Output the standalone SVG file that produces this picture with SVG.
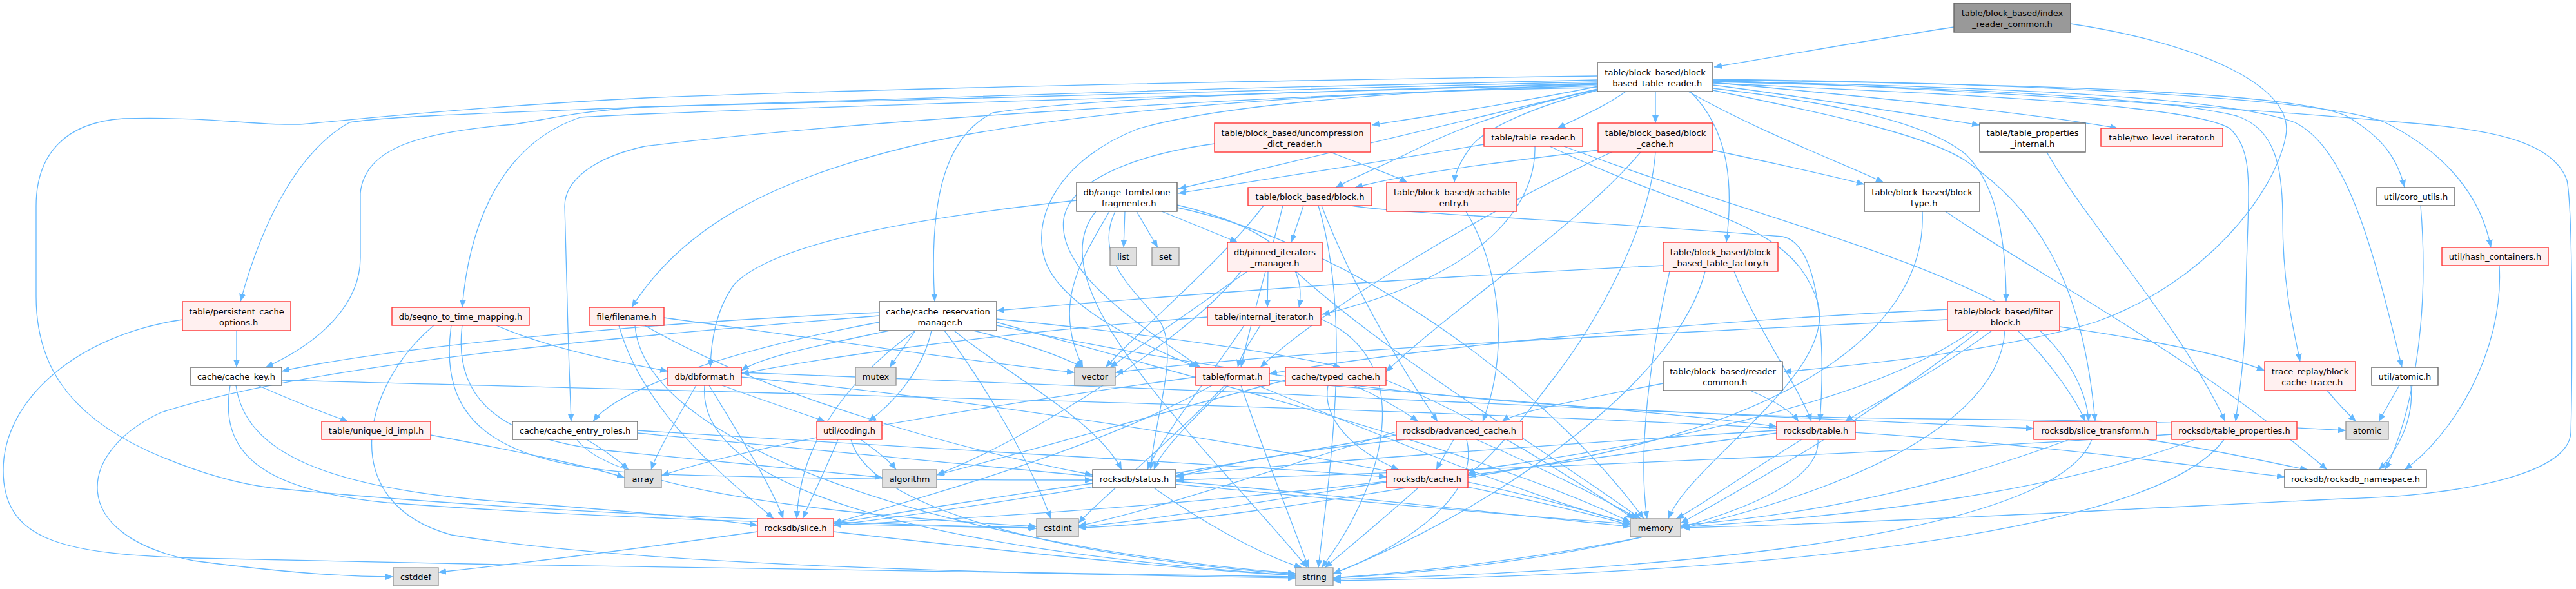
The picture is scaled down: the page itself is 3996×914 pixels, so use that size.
<svg xmlns="http://www.w3.org/2000/svg" width="3996" height="914" viewBox="0 0 3996 914">
<style>
.e{fill:none;stroke:#63b8ff;stroke-width:1.3;marker-end:url(#a)}
.w{fill:#ffffff;stroke:#666666;stroke-width:1.4}
.r{fill:#fff0f0;stroke:#ff3333;stroke-width:1.4}
.g{fill:#e0e0e0;stroke:#999999;stroke-width:1.4}
.root{fill:#999999;stroke:#666666;stroke-width:1.4}
text{font-family:"DejaVu Sans","Liberation Sans",sans-serif;font-size:13px;text-anchor:middle;fill:#000000}
</style>
<defs>
<marker id="a" markerWidth="13" markerHeight="10" refX="12" refY="5" orient="auto" markerUnits="userSpaceOnUse"><path d="M0,0 L12,5 L0,10 z" fill="#63b8ff"/></marker>
</defs>
<rect x="0" y="0" width="3996" height="914" fill="#ffffff"/>
<g id="edges">
<path class="e" d="M3031,42 C2900,62 2780,84 2659,104"/>
<path class="e" d="M3212,37 C3400,65 3560,130 3546,210 C3530,300 3420,440 3250,500 C3100,545 2900,565 2767,577"/>
<path class="e" d="M2478,118 C1900,125 1300,140 1000,152 C800,162 600,180 478,192 C420,198 330,180 191,184 C100,190 56,240 56,320 L56,460 C56,560 100,640 230,700 C320,740 380,752 420,757 C800,795 1300,812 1606,819"/>
<path class="e" d="M2657,125 C3000,135 3500,170 3729,190 C3850,200 3960,215 3982,280 C3992,330 3990,600 3988,671 C3985,740 3800,770 3634,774 C3300,790 2900,812 2609,819"/>
<path class="e" d="M2478,124 C2000,134 1400,150 1000,166 C800,174 600,180 542,190 C470,230 410,330 373,468"/>
<path class="e" d="M2478,127 C1900,140 1300,158 1000,166 C900,172 850,185 797,193 C650,205 565,230 559,300 L559,400 C559,470 500,530 412,570"/>
<path class="e" d="M2478,130 C1800,150 1100,170 900,182 C760,230 725,380 717,477"/>
<path class="e" d="M2478,133 C1900,150 1300,190 1000,227 C920,245 876,280 876,320 L880,470 C882,560 885,620 886,654"/>
<path class="e" d="M2478,136 C2000,142 1600,180 1400,230 C1200,280 1060,350 980,477"/>
<path class="e" d="M2478,129 C2100,140 1700,150 1540,175 C1470,210 1440,300 1450,468"/>
<path class="e" d="M2478,138 C2300,180 2100,230 1828,293"/>
<path class="e" d="M2478,131 C2200,140 1900,160 1765,200 C1650,245 1600,330 1620,400 C1640,470 1760,530 1857,570"/>
<path class="e" d="M2479,134 C2350,160 2250,175 2128,194"/>
<path class="e" d="M2522,142 C2490,165 2450,182 2416,199"/>
<path class="e" d="M2568,142 L2568,191"/>
<path class="e" d="M2479,139 C2380,160 2280,190 2200,230 C2140,260 2100,275 2072,291"/>
<path class="e" d="M2479,140 C2380,165 2300,200 2280,230 C2262,255 2257,270 2256,283"/>
<path class="e" d="M2619,142 C2720,200 2850,250 2922,283"/>
<path class="e" d="M2622,142 C2680,200 2690,280 2678,376"/>
<path class="e" d="M2657,132 C2800,150 2950,175 3071,194"/>
<path class="e" d="M2657,128 C2900,150 3150,175 3285,199"/>
<path class="e" d="M2657,124 C3100,130 3550,140 3640,180 C3700,215 3720,250 3730,291"/>
<path class="e" d="M2657,123 C3100,128 3600,150 3700,190 C3800,240 3850,310 3864,384"/>
<path class="e" d="M2657,137 C2850,160 2990,190 3050,240 C3100,290 3112,380 3112,468"/>
<path class="e" d="M2657,129 C3000,145 3400,160 3460,200 C3500,240 3486,300 3484,460 C3483,560 3472,620 3468,654"/>
<path class="e" d="M2657,140 C2850,180 2990,210 3050,250 C3150,320 3230,420 3250,654"/>
<path class="e" d="M2657,127 C3000,135 3350,150 3470,180 C3530,200 3541,260 3541,340 C3541,450 3560,520 3568,561"/>
<path class="e" d="M2657,126 C3100,135 3450,150 3560,190 C3640,230 3680,380 3726,570"/>
<path class="e" d="M2064,236 C2110,255 2160,270 2183,283"/>
<path class="e" d="M1884,223 C1760,240 1660,280 1650,340 C1640,420 1760,500 1862,570"/>
<path class="e" d="M2302,224 C2150,250 2000,272 1828,300"/>
<path class="e" d="M2381,227 C2383,300 2330,420 2051,488"/>
<path class="e" d="M2426,227 C2700,330 3000,400 3150,500 C3220,560 3238,620 3240,654"/>
<path class="e" d="M2404,227 C2640,340 2780,340 2820,470 C2850,580 2620,720 2588,805"/>
<path class="e" d="M2479,233 C2300,255 2180,270 2102,291"/>
<path class="e" d="M2657,233 C2760,255 2830,270 2892,286"/>
<path class="e" d="M2545,236 C2450,350 2250,480 2150,577"/>
<path class="e" d="M2568,236 C2560,350 2480,500 2400,600 C2340,680 2300,720 2277,737"/>
<path class="e" d="M2500,236 C2300,330 2050,480 1955,570"/>
<path class="e" d="M3175,236 C3240,350 3380,500 3452,654"/>
<path class="e" d="M1745,328 L1743,384"/>
<path class="e" d="M1763,328 L1796,384"/>
<path class="e" d="M1802,328 L1920,376"/>
<path class="e" d="M1826,318 C1960,350 2030,400 2015,477"/>
<path class="e" d="M1670,311 C1400,340 1200,380 1140,440 C1110,480 1103,530 1102,570"/>
<path class="e" d="M1730,328 C1695,400 1760,450 1800,500 C1830,550 1790,650 1785,729"/>
<path class="e" d="M1721,328 C1680,400 1630,470 1680,570"/>
<path class="e" d="M1826,322 C2100,380 2400,600 2550,805"/>
<path class="e" d="M1700,328 C1600,450 1880,700 2028,881"/>
<path class="e" d="M1967,421 L1966,477"/>
<path class="e" d="M1925,421 C1850,520 1600,680 1453,737"/>
<path class="e" d="M2010,421 C2150,550 2400,700 2545,805"/>
<path class="e" d="M1935,421 C1850,480 1780,530 1722,570"/>
<path class="e" d="M2022,319 L2003,376"/>
<path class="e" d="M2050,319 C2100,450 2180,580 2230,654"/>
<path class="e" d="M2096,319 C2150,330 2500,345 2765,367 C2830,380 2830,560 2823,654"/>
<path class="e" d="M1990,319 C1970,400 1940,500 1925,570"/>
<path class="e" d="M2045,319 C2100,500 2060,750 2045,881"/>
<path class="e" d="M1960,319 C1900,400 1780,500 1715,570"/>
<path class="e" d="M2274,328 C2330,420 2340,550 2300,654"/>
<path class="e" d="M3018,328 C3150,420 3400,550 3610,729"/>
<path class="e" d="M2982,328 C2990,500 2800,650 2400,720 C2000,790 1800,815 1673,819"/>
<path class="e" d="M3755,319 C3770,500 3740,650 3700,729"/>
<path class="e" d="M3877,412 C3885,550 3800,680 3730,729"/>
<path class="e" d="M2580,412 C2200,430 1800,460 1546,482"/>
<path class="e" d="M2590,421 C2560,550 2540,700 2555,805"/>
<path class="e" d="M2645,421 C2600,600 2300,800 2068,890"/>
<path class="e" d="M2690,421 C2720,500 2790,600 2810,654"/>
<path class="e" d="M367,513 L367,570"/>
<path class="e" d="M283,496 C120,520 5,620 5,730 C5,840 100,860 300,866 C900,880 1600,890 2010,895"/>
<path class="e" d="M770,505 C850,540 950,560 1036,576"/>
<path class="e" d="M717,505 C705,600 750,680 950,700 C1150,720 1300,735 1369,741"/>
<path class="e" d="M700,505 C680,650 760,720 1000,735 C1300,745 1550,745 1695,745"/>
<path class="e" d="M673,505 C560,600 520,780 700,830 C1000,880 1600,890 2010,897"/>
<path class="e" d="M1030,493 C1300,530 1500,560 1667,578"/>
<path class="e" d="M960,505 C1000,650 1150,760 1200,805"/>
<path class="e" d="M1000,505 C1200,620 1500,700 1695,737"/>
<path class="e" d="M985,505 C1000,700 1500,850 2010,890"/>
<path class="e" d="M1420,513 L1380,570"/>
<path class="e" d="M1510,513 C1580,530 1640,550 1680,570"/>
<path class="e" d="M1445,513 C1430,580 1380,630 1347,654"/>
<path class="e" d="M1420,513 C1300,600 1240,700 1236,805"/>
<path class="e" d="M1480,513 C1560,580 1700,650 1740,729"/>
<path class="e" d="M1465,513 C1530,600 1600,720 1630,805"/>
<path class="e" d="M1546,500 C1900,600 2300,700 2529,810"/>
<path class="e" d="M1364,485 C1000,500 600,540 437,576"/>
<path class="e" d="M1364,500 C1150,540 960,600 920,654"/>
<path class="e" d="M1546,495 C1800,520 2000,550 2080,570"/>
<path class="e" d="M1380,513 C1250,540 1180,555 1150,575"/>
<path class="e" d="M1364,490 C1000,520 500,560 250,640 C120,700 100,830 300,870 C450,890 550,895 610,895"/>
<path class="e" d="M1546,505 C2000,600 2400,645 3000,650 C3300,652 3500,660 3639,668"/>
<path class="e" d="M1873,492 C1500,520 1250,560 1150,580"/>
<path class="e" d="M1955,505 C1940,530 1925,550 1920,570"/>
<path class="e" d="M1930,505 C1880,580 1800,680 1780,729"/>
<path class="e" d="M2049,495 C2200,560 2150,750 2050,881"/>
<path class="e" d="M3021,496 C2500,520 2000,545 1730,578"/>
<path class="e" d="M3195,507 C3350,530 3450,550 3513,575"/>
<path class="e" d="M3130,513 C3180,560 3220,620 3235,654"/>
<path class="e" d="M3070,513 C2900,650 2700,760 2607,812"/>
<path class="e" d="M3110,513 C3100,700 2700,850 2068,897"/>
<path class="e" d="M3090,513 C3000,580 2900,630 2862,654"/>
<path class="e" d="M3060,513 C2800,700 2000,780 1293,815"/>
<path class="e" d="M3021,480 C2600,500 2200,540 1969,580"/>
<path class="e" d="M400,598 C450,620 500,640 540,654"/>
<path class="e" d="M357,598 C340,700 400,760 600,780 C1000,810 1400,815 1608,820"/>
<path class="e" d="M366,598 C380,700 500,760 800,780 C1000,795 1100,805 1175,815"/>
<path class="e" d="M437,590 C1200,610 2500,640 3000,680 C3300,705 3450,730 3544,740"/>
<path class="e" d="M1080,598 C1050,650 1020,700 1010,729"/>
<path class="e" d="M1120,598 C1180,620 1240,640 1280,654"/>
<path class="e" d="M1100,598 C1150,680 1200,760 1215,805"/>
<path class="e" d="M1093,598 C1080,750 1400,850 2010,893"/>
<path class="e" d="M1150,585 C1700,640 2300,750 2529,815"/>
<path class="e" d="M1150,578 C1800,600 2600,640 3155,665"/>
<path class="e" d="M1855,585 C1600,620 1200,680 1026,738"/>
<path class="e" d="M1900,598 C1800,700 1700,780 1673,812"/>
<path class="e" d="M1925,598 C1960,700 2000,800 2030,881"/>
<path class="e" d="M1880,598 C1700,700 1400,780 1293,812"/>
<path class="e" d="M1905,598 C1850,650 1800,700 1790,729"/>
<path class="e" d="M1969,590 C2300,620 2600,640 2756,662"/>
<path class="e" d="M1950,598 C2200,700 2400,780 2529,812"/>
<path class="e" d="M1994,590 C1800,640 1600,700 1453,737"/>
<path class="e" d="M2100,598 C2150,620 2180,640 2200,654"/>
<path class="e" d="M2150,590 C2300,650 2450,750 2535,805"/>
<path class="e" d="M2060,598 C2050,650 2100,700 2170,729"/>
<path class="e" d="M2715,606 C2760,625 2780,640 2790,654"/>
<path class="e" d="M2580,595 C2450,620 2350,640 2330,654"/>
<path class="e" d="M3610,606 C3630,630 3645,645 3655,654"/>
<path class="e" d="M3722,598 L3690,654"/>
<path class="e" d="M3740,598 C3745,650 3720,700 3690,729"/>
<path class="e" d="M668,675 C800,700 900,720 969,741"/>
<path class="e" d="M910,682 C940,700 960,715 975,729"/>
<path class="e" d="M895,682 C950,760 1300,800 1608,817"/>
<path class="e" d="M989,672 C1500,720 2200,790 2529,813"/>
<path class="e" d="M989,668 C1500,700 1900,720 2151,740"/>
<path class="e" d="M1335,682 C1360,700 1380,715 1390,729"/>
<path class="e" d="M1300,682 C1280,730 1260,770 1245,805"/>
<path class="e" d="M1320,682 C1350,800 1700,870 2010,891"/>
<path class="e" d="M2255,682 C2245,700 2235,715 2228,729"/>
<path class="e" d="M2166,670 C2000,720 1800,790 1673,816"/>
<path class="e" d="M2290,682 C2400,730 2500,780 2540,805"/>
<path class="e" d="M2275,682 C2300,780 2150,860 2068,890"/>
<path class="e" d="M2166,675 C1800,740 1500,790 1293,815"/>
<path class="e" d="M2180,682 C2000,700 1900,720 1824,740"/>
<path class="e" d="M2795,682 C2700,740 2630,790 2600,805"/>
<path class="e" d="M2820,682 C2830,800 2400,880 2068,897"/>
<path class="e" d="M2756,672 C2550,700 2400,720 2277,738"/>
<path class="e" d="M2756,668 C2400,690 2000,720 1824,738"/>
<path class="e" d="M3210,682 C3000,760 2800,800 2607,815"/>
<path class="e" d="M3245,682 C3200,800 2800,880 2068,899"/>
<path class="e" d="M3330,682 C3450,700 3530,720 3580,729"/>
<path class="e" d="M3369,674 C3000,700 2300,730 1824,745"/>
<path class="e" d="M3405,682 C3200,760 2900,800 2607,818"/>
<path class="e" d="M3450,682 C3350,820 2800,890 2068,901"/>
<path class="e" d="M1695,750 C1550,770 1400,795 1293,812"/>
<path class="e" d="M1790,757 C1850,800 1950,860 2020,881"/>
<path class="e" d="M1824,747 C2100,770 2350,800 2529,817"/>
<path class="e" d="M2151,748 C1950,780 1800,805 1673,818"/>
<path class="e" d="M2277,748 C2380,770 2470,795 2529,812"/>
<path class="e" d="M2200,757 C2140,810 2080,860 2055,881"/>
<path class="e" d="M1175,825 C1000,850 800,875 680,888"/>
<path class="e" d="M1293,825 C1600,860 1850,885 2010,893"/>
</g>
<g id="n0"><rect class="root" x="3031" y="5" width="181" height="45"/><text x="3121.5" y="25">table/block_based/index</text><text x="3121.5" y="42">_reader_common.h</text></g>
<g id="n1"><rect class="w" x="2478" y="97" width="179" height="45"/><text x="2567.5" y="117">table/block_based/block</text><text x="2567.5" y="134">_based_table_reader.h</text></g>
<g id="n2"><rect class="r" x="1884" y="191" width="242" height="45"/><text x="2005" y="211">table/block_based/uncompression</text><text x="2005" y="228">_dict_reader.h</text></g>
<g id="n3"><rect class="r" x="2302" y="199" width="153" height="28"/><text x="2378.5" y="217.5">table/table_reader.h</text></g>
<g id="n4"><rect class="r" x="2479" y="191" width="178" height="45"/><text x="2568" y="211">table/block_based/block</text><text x="2568" y="228">_cache.h</text></g>
<g id="n5"><rect class="w" x="3071" y="191" width="164" height="45"/><text x="3153" y="211">table/table_properties</text><text x="3153" y="228">_internal.h</text></g>
<g id="n6"><rect class="r" x="3259" y="199" width="189" height="28"/><text x="3353.5" y="217.5">table/two_level_iterator.h</text></g>
<g id="n7"><rect class="w" x="1670" y="283" width="156" height="45"/><text x="1748" y="303">db/range_tombstone</text><text x="1748" y="320">_fragmenter.h</text></g>
<g id="n8"><rect class="r" x="1936" y="291" width="192" height="28"/><text x="2032" y="309.5">table/block_based/block.h</text></g>
<g id="n9"><rect class="r" x="2151" y="283" width="202" height="45"/><text x="2252" y="303">table/block_based/cachable</text><text x="2252" y="320">_entry.h</text></g>
<g id="n10"><rect class="w" x="2892" y="283" width="179" height="45"/><text x="2981.5" y="303">table/block_based/block</text><text x="2981.5" y="320">_type.h</text></g>
<g id="n11"><rect class="w" x="3687" y="291" width="121" height="28"/><text x="3747.5" y="309.5">util/coro_utils.h</text></g>
<g id="n12"><rect class="g" x="1722" y="384" width="41" height="28"/><text x="1742.5" y="402.5">list</text></g>
<g id="n13"><rect class="g" x="1787" y="384" width="42" height="28"/><text x="1808" y="402.5">set</text></g>
<g id="n14"><rect class="r" x="1904" y="376" width="147" height="45"/><text x="1977.5" y="396">db/pinned_iterators</text><text x="1977.5" y="413">_manager.h</text></g>
<g id="n15"><rect class="r" x="2580" y="376" width="178" height="45"/><text x="2669" y="396">table/block_based/block</text><text x="2669" y="413">_based_table_factory.h</text></g>
<g id="n16"><rect class="r" x="3788" y="384" width="165" height="28"/><text x="3870.5" y="402.5">util/hash_containers.h</text></g>
<g id="n17"><rect class="r" x="283" y="468" width="168" height="45"/><text x="367" y="488">table/persistent_cache</text><text x="367" y="505">_options.h</text></g>
<g id="n18"><rect class="r" x="608" y="477" width="213" height="28"/><text x="714.5" y="495.5">db/seqno_to_time_mapping.h</text></g>
<g id="n19"><rect class="r" x="914" y="477" width="116" height="28"/><text x="972" y="495.5">file/filename.h</text></g>
<g id="n20"><rect class="w" x="1364" y="468" width="182" height="45"/><text x="1455" y="488">cache/cache_reservation</text><text x="1455" y="505">_manager.h</text></g>
<g id="n21"><rect class="r" x="1873" y="477" width="176" height="28"/><text x="1961" y="495.5">table/internal_iterator.h</text></g>
<g id="n22"><rect class="r" x="3021" y="468" width="174" height="45"/><text x="3108" y="488">table/block_based/filter</text><text x="3108" y="505">_block.h</text></g>
<g id="n23"><rect class="w" x="296" y="570" width="141" height="28"/><text x="366.5" y="588.5">cache/cache_key.h</text></g>
<g id="n24"><rect class="r" x="1036" y="570" width="114" height="28"/><text x="1093" y="588.5">db/dbformat.h</text></g>
<g id="n25"><rect class="g" x="1327" y="570" width="63" height="28"/><text x="1358.5" y="588.5">mutex</text></g>
<g id="n26"><rect class="g" x="1667" y="570" width="63" height="28"/><text x="1698.5" y="588.5">vector</text></g>
<g id="n27"><rect class="r" x="1855" y="570" width="114" height="28"/><text x="1912" y="588.5">table/format.h</text></g>
<g id="n28"><rect class="r" x="1994" y="570" width="156" height="28"/><text x="2072" y="588.5">cache/typed_cache.h</text></g>
<g id="n29"><rect class="w" x="2580" y="561" width="185" height="45"/><text x="2672.5" y="581">table/block_based/reader</text><text x="2672.5" y="598">_common.h</text></g>
<g id="n30"><rect class="r" x="3513" y="561" width="141" height="45"/><text x="3583.5" y="581">trace_replay/block</text><text x="3583.5" y="598">_cache_tracer.h</text></g>
<g id="n31"><rect class="w" x="3679" y="570" width="103" height="28"/><text x="3730.5" y="588.5">util/atomic.h</text></g>
<g id="n32"><rect class="r" x="499" y="654" width="169" height="28"/><text x="583.5" y="672.5">table/unique_id_impl.h</text></g>
<g id="n33"><rect class="w" x="795" y="654" width="194" height="28"/><text x="892" y="672.5">cache/cache_entry_roles.h</text></g>
<g id="n34"><rect class="r" x="1267" y="654" width="101" height="28"/><text x="1317.5" y="672.5">util/coding.h</text></g>
<g id="n35"><rect class="r" x="2166" y="654" width="196" height="28"/><text x="2264" y="672.5">rocksdb/advanced_cache.h</text></g>
<g id="n36"><rect class="r" x="2756" y="654" width="122" height="28"/><text x="2817" y="672.5">rocksdb/table.h</text></g>
<g id="n37"><rect class="r" x="3155" y="654" width="190" height="28"/><text x="3250" y="672.5">rocksdb/slice_transform.h</text></g>
<g id="n38"><rect class="r" x="3369" y="654" width="194" height="28"/><text x="3466" y="672.5">rocksdb/table_properties.h</text></g>
<g id="n39"><rect class="g" x="3639" y="654" width="66" height="28"/><text x="3672" y="672.5">atomic</text></g>
<g id="n40"><rect class="g" x="969" y="729" width="57" height="28"/><text x="997.5" y="747.5">array</text></g>
<g id="n41"><rect class="g" x="1369" y="729" width="84" height="28"/><text x="1411" y="747.5">algorithm</text></g>
<g id="n42"><rect class="w" x="1695" y="729" width="129" height="28"/><text x="1759.5" y="747.5">rocksdb/status.h</text></g>
<g id="n43"><rect class="r" x="2151" y="729" width="126" height="28"/><text x="2214" y="747.5">rocksdb/cache.h</text></g>
<g id="n44"><rect class="w" x="3544" y="729" width="220" height="28"/><text x="3654" y="747.5">rocksdb/rocksdb_namespace.h</text></g>
<g id="n45"><rect class="r" x="1175" y="805" width="118" height="28"/><text x="1234" y="823.5">rocksdb/slice.h</text></g>
<g id="n46"><rect class="g" x="1608" y="805" width="65" height="28"/><text x="1640.5" y="823.5">cstdint</text></g>
<g id="n47"><rect class="g" x="2529" y="805" width="78" height="28"/><text x="2568" y="823.5">memory</text></g>
<g id="n48"><rect class="g" x="610" y="881" width="70" height="28"/><text x="645" y="899.5">cstddef</text></g>
<g id="n49"><rect class="g" x="2010" y="881" width="58" height="28"/><text x="2039" y="899.5">string</text></g>
</svg>
